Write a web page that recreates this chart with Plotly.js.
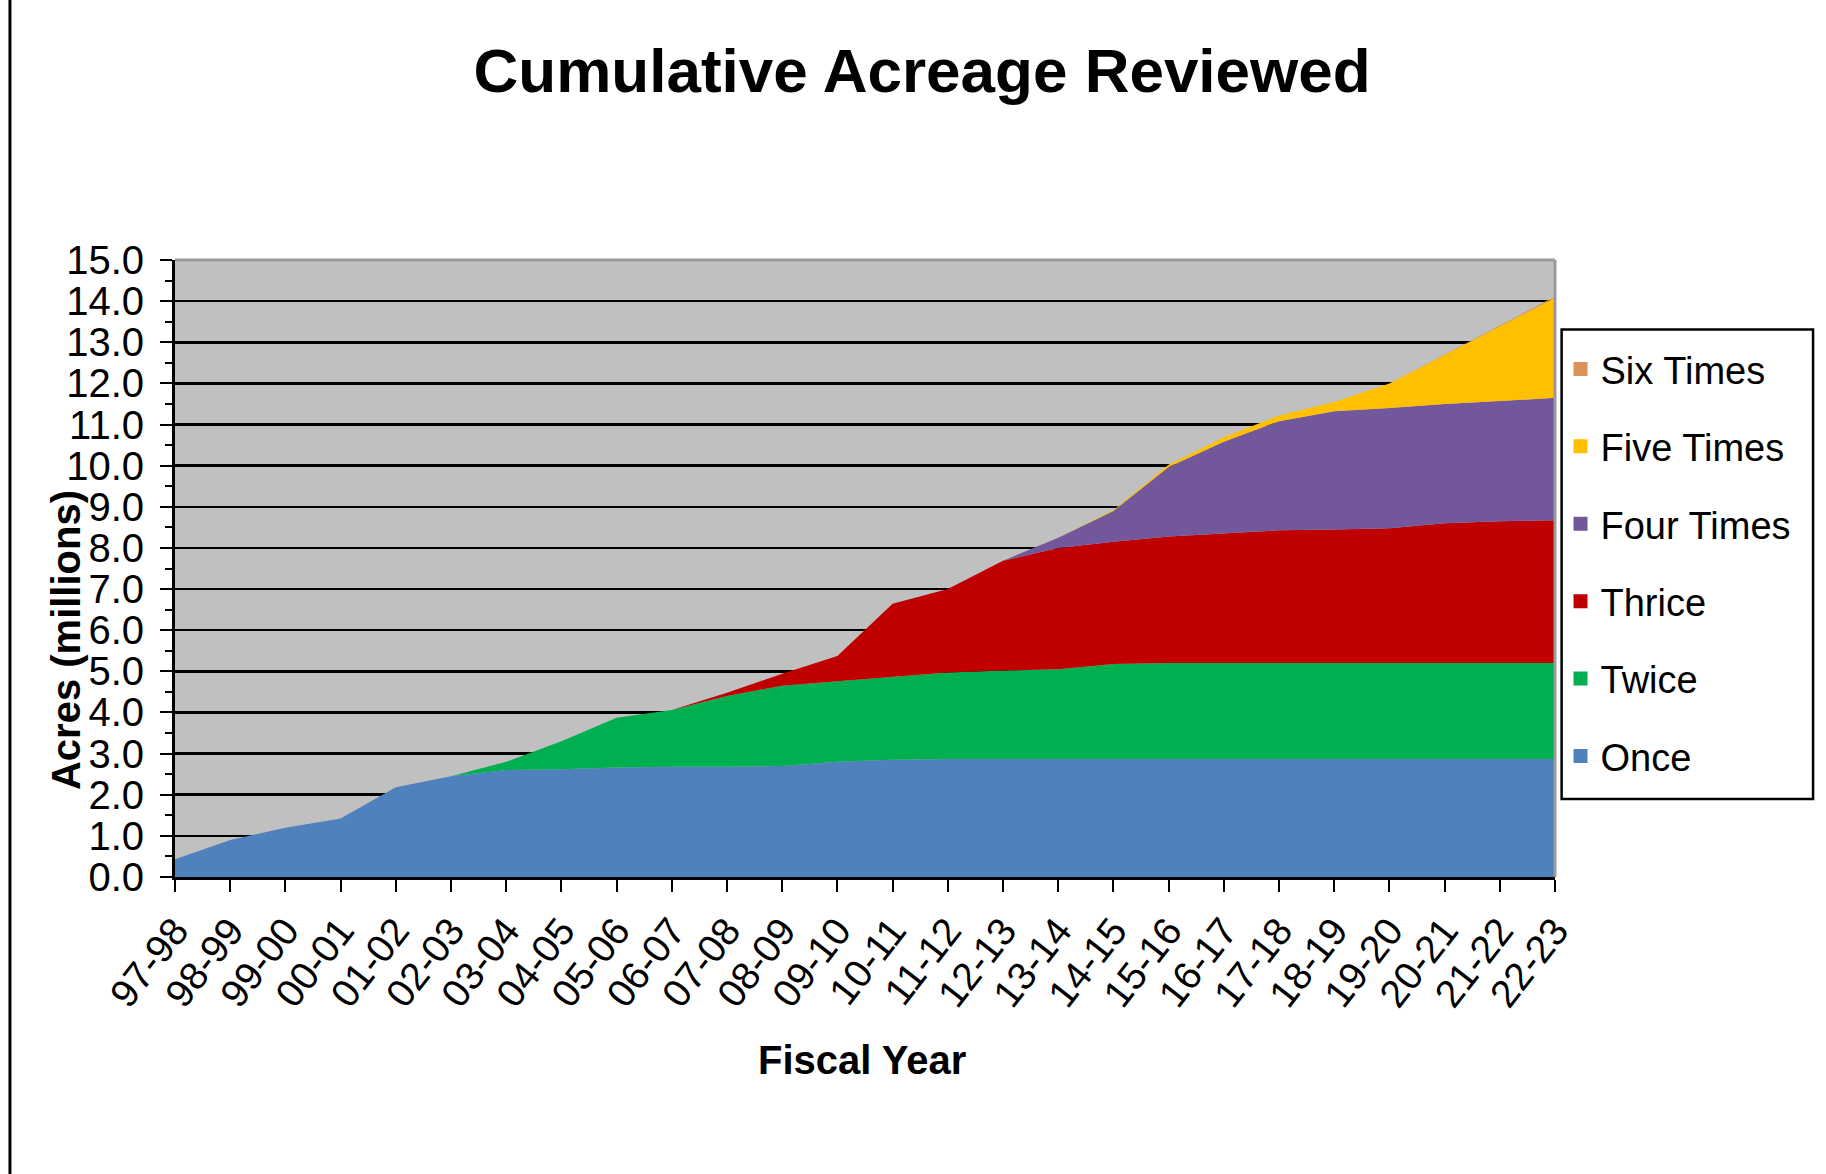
<!DOCTYPE html>
<html>
<head>
<meta charset="utf-8">
<script src="https://cdn.plot.ly/plotly-3.0.1.min.js"></script>
<style>
  html, body { margin: 0; padding: 0; background: #ffffff; }
  #chart { width: 1826px; height: 1174px; }
</style>
</head>
<body>
<div id="chart"></div>
<script>
// Fiscal years (categories)
const fiscalYears = ["97-98","98-99","99-00","00-01","01-02","02-03","03-04","04-05","05-06","06-07",
  "07-08","08-09","09-10","10-11","11-12","12-13","13-14","14-15","15-16","16-17",
  "17-18","18-19","19-20","20-21","21-22","22-23"];

// Acreage (millions) per review count, stacked
const once      = [0.43,0.90,1.20,1.42,2.18,2.45,2.60,2.62,2.66,2.68,2.68,2.70,2.80,2.85,2.87,2.87,2.87,2.87,2.87,2.87,2.87,2.87,2.87,2.87,2.87,2.87];
const twice     = [0,0,0,0,0,0,0.20,0.68,1.21,1.38,1.72,1.95,1.96,2.01,2.10,2.15,2.18,2.31,2.33,2.33,2.33,2.33,2.33,2.33,2.33,2.33];
const thrice    = [0,0,0,0,0,0,0,0,0,0,0.08,0.29,0.61,1.78,2.03,2.67,2.95,2.97,3.08,3.16,3.23,3.25,3.28,3.40,3.45,3.47];
const fourTimes = [0,0,0,0,0,0,0,0,0,0,0,0,0,0,0,0,0.25,0.75,1.69,2.22,2.65,2.87,2.92,2.90,2.92,2.98];
const fiveTimes = [0,0,0,0,0,0,0,0,0,0,0,0,0,0,0,0,0,0.02,0.05,0.11,0.14,0.23,0.60,1.20,1.82,2.43];
const sixTimes  = [0,0,0,0,0,0,0,0,0,0,0,0,0,0,0,0,0,0,0,0,0,0,0,0,0,0.03];

const yTickVals = [0,1,2,3,4,5,6,7,8,9,10,11,12,13,14,15];

const seriesNames  = ["Once","Twice","Thrice","Four Times","Five Times","Six Times"];
const seriesData   = [once, twice, thrice, fourTimes, fiveTimes, sixTimes];
const seriesColors = ["#4F81BD","#00B050","#C00000","#72589A","#FFC000","#D9925A"];

const FONT = "Liberation Sans, Arial, sans-serif";

const traces = [];
seriesData.forEach((vals, k) => {
  traces.push({
    type: "scatter", mode: "lines", x: fiscalYears, y: vals,
    stackgroup: "one", name: seriesNames[k],
    line: {width: 0, color: seriesColors[k]}, fillcolor: seriesColors[k],
    showlegend: false, hoverinfo: "x+y+name"
  });
});
// legend entries (square swatches), listed top-down like the original
for (let k = seriesNames.length - 1; k >= 0; k--) {
  traces.push({
    type: "scatter", mode: "markers", x: [fiscalYears[0]], y: [null],
    name: seriesNames[k], showlegend: true, legendgroup: "g" + k,
    marker: {symbol: "square", size: 14, color: seriesColors[k]}
  });
}

const layout = {
  width: 1826, height: 1174,
  margin: {l: 175, r: 271, t: 260, b: 297},
  paper_bgcolor: "#ffffff",
  plot_bgcolor: "#C0C0C0",
  font: {family: FONT, color: "#000000"},
  title: {
    text: "<b>Cumulative Acreage Reviewed</b>",
    font: {family: FONT, size: 62, color: "#000000"},
    xref: "container", x: 0.505, xanchor: "center",
    yref: "container", y: 0.94, yanchor: "middle"
  },
  xaxis: {
    type: "category", categoryorder: "array", categoryarray: fiscalYears,
    range: [0, fiscalYears.length - 1],
    tickangle: -52,
    tickfont: {family: FONT, size: 39, color: "#000"},
    ticks: "outside", ticklen: 12, tickwidth: 2, tickcolor: "#000",
    showline: true, linecolor: "#000", linewidth: 3,
    showgrid: false, zeroline: false, fixedrange: true
  },
  yaxis: {
    range: [0, 15],
    tickvals: yTickVals, tickformat: ".1f",
    tickfont: {family: FONT, size: 40, color: "#000"},
    ticks: "outside", ticklen: 12, tickwidth: 2, tickcolor: "#000",
    ticklabelstandoff: 8,
    minor: {dtick: 0.5, ticks: "outside", ticklen: 7, tickwidth: 2, tickcolor: "#000", showgrid: false},
    showline: true, linecolor: "#000", linewidth: 3,
    showgrid: true, gridcolor: "#000", gridwidth: 2.5,
    zeroline: false, fixedrange: true
  },
  legend: {
    x: 1.004, xanchor: "left", y: 0.874, yanchor: "top",
    bgcolor: "rgba(0,0,0,0)", borderwidth: 0,
    font: {family: FONT, size: 38, color: "#000"},
    traceorder: "grouped", tracegroupgap: 25,
    itemwidth: 30
  },
  annotations: [
    {text: "<b>Fiscal Year</b>", xref: "paper", yref: "paper", x: 0.498, y: -0.2966,
     xanchor: "center", yanchor: "middle", showarrow: false,
     font: {family: FONT, size: 40, color: "#000"}},
    {text: "<b>Acres (millions)</b>", xref: "paper", yref: "paper", x: -0.079, y: 0.384,
     xanchor: "center", yanchor: "middle", showarrow: false, textangle: -90,
     font: {family: FONT, size: 40, color: "#000"}}
  ],
  shapes: [
    {type: "line", xref: "paper", yref: "paper", x0: 0, x1: 1, y0: 1, y1: 1,
     line: {color: "#9a9a9a", width: 3}, layer: "above"},
    {type: "line", xref: "paper", yref: "paper", x0: 1, x1: 1, y0: 0, y1: 1,
     line: {color: "#9a9a9a", width: 3}, layer: "above"},
    {type: "line", xref: "paper", yref: "paper", x0: -0.1196, x1: -0.1196, y0: -0.49, y1: 1.43,
     line: {color: "#000", width: 3}},
    {type: "rect", xref: "paper", yref: "paper", x0: 1.0048, x1: 1.187, y0: 0.1264, y1: 0.8873,
     line: {color: "#000", width: 2.5}, fillcolor: "rgba(0,0,0,0)", layer: "above"}
  ]
};

Plotly.newPlot("chart", traces, layout, {displayModeBar: false, staticPlot: true});
</script>
</body>
</html>
